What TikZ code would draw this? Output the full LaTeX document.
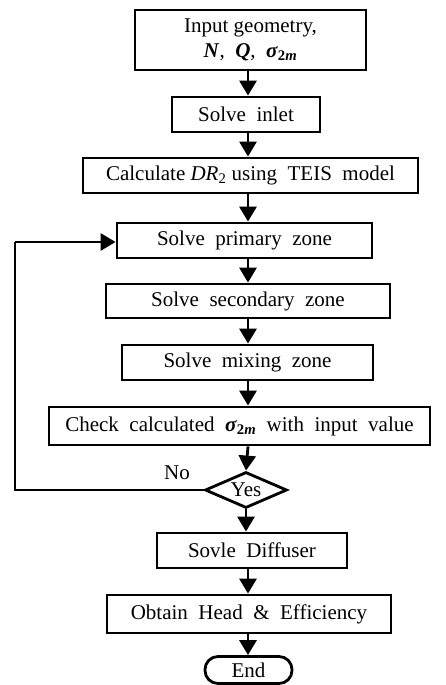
\documentclass[tikz,border=0pt]{standalone}
\usepackage{fontspec}
\setmainfont{Liberation Serif}
\usetikzlibrary{shapes.geometric,arrows.meta}
% bold italic symbols set in the text font
\newcommand{\bsym}[1]{\textbf{\textit{#1}}}
\newcommand{\sigtwo}{\bsym{σ}\textsubscript{\textbf{2\textit{m}}}}
\begin{document}
\begin{tikzpicture}[x=1pt,y=-1pt,
  every node/.style={font=\fontsize{21}{25}\selectfont, inner sep=0pt},
  box/.style={draw, line width=2.8pt, align=center},
  flow/.style={line width=2.8pt, -{Triangle[width=17pt,length=15pt]}},
  plain/.style={line width=2.8pt}]
\useasboundingbox (0,0) rectangle (445,685);
\coordinate (spine) at (248,0);
% process boxes
\node[box, minimum width=231pt, minimum height=60pt] (inp) at (250.5,40)
  {Input geometry,\\ \bsym{N},\ \ \bsym{Q},\ \ \sigtwo};
\node[box, minimum width=148pt, minimum height=35pt] (inlet) at (246,114.5) {Solve\ \ inlet};
\node[box, minimum width=335pt, minimum height=35pt] (calc) at (250.5,175.5)
  {Calculate \textit{DR}\textsubscript{2} using\ \ TEIS\ \ model};
\node[box, minimum width=255pt, minimum height=35pt] (prim) at (244.5,240.5) {Solve\ \ primary\ \ zone};
\node[box, minimum width=284pt, minimum height=34pt] (sec) at (248,301) {Solve\ \ secondary\ \ zone};
\node[box, minimum width=251pt, minimum height=35pt] (mix) at (247.5,362.5) {Solve\ \ mixing\ \ zone};
\node[box, minimum width=381pt, minimum height=38pt] (check) at (239.5,426)
  {Check\ \ calculated\ \ \sigtwo\ \ with\ \ input\ \ value};
\node[draw, line width=2.8pt, diamond, aspect=2.3, minimum width=82pt, minimum height=36pt] (dec) at (246,490) {Yes};
\node[box, minimum width=190pt, minimum height=35pt] (diff) at (252,550.5) {Sovle\ \ Diffuser};
\node[box, minimum width=284pt, minimum height=38pt] (obt) at (249,614) {Obtain\ \ Head\ \ \&\ \ Efficiency};
\node[draw, line width=2.8pt, rounded corners=13pt, minimum width=87pt, minimum height=27pt] (end) at (248.5,670) {End};
\node (no) at (177,473) {No};
% main flow
\draw[flow] (inp.south -| spine) -- (inlet.north -| spine);
\draw[flow] (inlet.south -| spine) -- (calc.north -| spine);
\draw[flow] (calc.south -| spine) -- (prim.north -| spine);
\draw[flow] (prim.south -| spine) -- (sec.north -| spine);
\draw[flow] (sec.south -| spine) -- (mix.north -| spine);
\draw[flow] (mix.south -| spine) -- (check.north -| spine);
\draw[flow] (check.south -| spine) -- (dec.north);
\draw[flow] (dec.south) -- (diff.north -| dec.south);
\draw[flow] (diff.south -| spine) -- (obt.north -| spine);
\draw[flow] (obt.south -| spine) -- (end.north -| spine);
% loop back
\coordinate (lb) at (15,490);
\coordinate (lt) at (15,242);
\draw[plain] (dec.west) -- (lb) -- (lt);
\draw[flow] (lt) -- (prim.west |- lt);
\end{tikzpicture}
\end{document}
